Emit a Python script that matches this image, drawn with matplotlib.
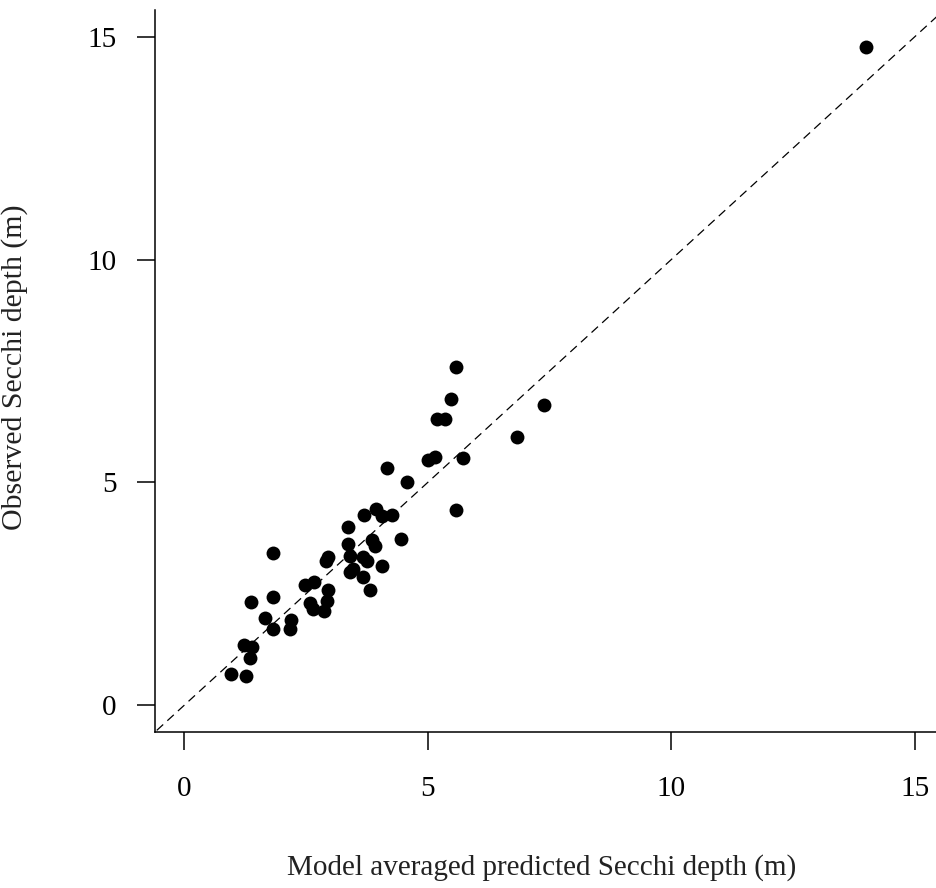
import numpy as np
import matplotlib
matplotlib.use("Agg")
import matplotlib.pyplot as plt

# model averaged predictions vs observed Secchi depth (m)
predicted = [14.00, 5.58, 5.47, 5.19, 5.36, 7.39, 6.84, 5.01, 5.15, 5.73,
             4.17, 4.57, 5.58, 3.69, 3.94, 4.06, 4.26, 3.37, 4.45, 3.37,
             3.85, 3.92, 1.82, 2.96, 2.91, 3.41, 3.68, 3.75, 4.06, 3.47,
             3.41, 3.68, 3.81, 2.47, 2.66, 2.96, 2.93, 2.59, 2.65, 2.86,
             1.37, 1.82, 1.66, 1.83, 2.20, 2.17, 1.22, 1.39, 1.35, 0.96,
             1.26]
observed = [14.77, 7.59, 6.87, 6.42, 6.42, 6.74, 6.02, 5.51, 5.56, 5.54,
            5.32, 5.01, 4.39, 4.26, 4.41, 4.24, 4.26, 3.99, 3.73, 3.62,
            3.71, 3.58, 3.42, 3.33, 3.23, 3.36, 3.32, 3.24, 3.13, 3.06,
            3.00, 2.87, 2.58, 2.70, 2.76, 2.58, 2.35, 2.30, 2.17, 2.12,
            2.31, 2.44, 1.96, 1.72, 1.91, 1.72, 1.35, 1.30, 1.05, 0.71,
            0.65]
ticks = [0, 5, 10, 15]

plt.rcParams['font.family'] = ['Liberation Serif', 'DejaVu Serif']

W, H = 937, 888
fig = plt.figure(figsize=(W / 100, H / 100), dpi=100)
# plot region runs past the right edge, as in the cropped original
ax = fig.add_axes([155 / W, 1 - 732 / H, (944 - 155) / W, (732 - 10) / H])

ax.scatter(predicted, observed, s=100, c='black', linewidths=0, zorder=3)
line = np.array([-1, 17])
ax.plot(line, line, color='black', lw=0.9, dashes=(7, 4.5))

ax.set_xlim(-0.6, 15.6)
ax.set_ylim(-0.6, 15.6)
ax.set_xticks(ticks)
ax.set_yticks(ticks)
for s in ['top', 'right']:
    ax.spines[s].set_visible(False)
for s in ['left', 'bottom']:
    ax.spines[s].set_linewidth(1.1)

ax.tick_params(axis='both', direction='out', length=12.7, width=1.1,
               labelsize=21, colors='black')
ax.tick_params(axis='y', pad=15)
ax.tick_params(axis='x', pad=19)

ax.set_xlabel('Model averaged predicted Secchi depth (m)', fontsize=21,
              color='#222222')
ax.set_ylabel('Observed Secchi depth (m)', fontsize=21.5, color='#222222')
ax.xaxis.set_label_coords(0.49, -0.169)
ax.yaxis.set_label_coords(-0.161, 0.505)

fig.savefig('out.png', dpi=100)
